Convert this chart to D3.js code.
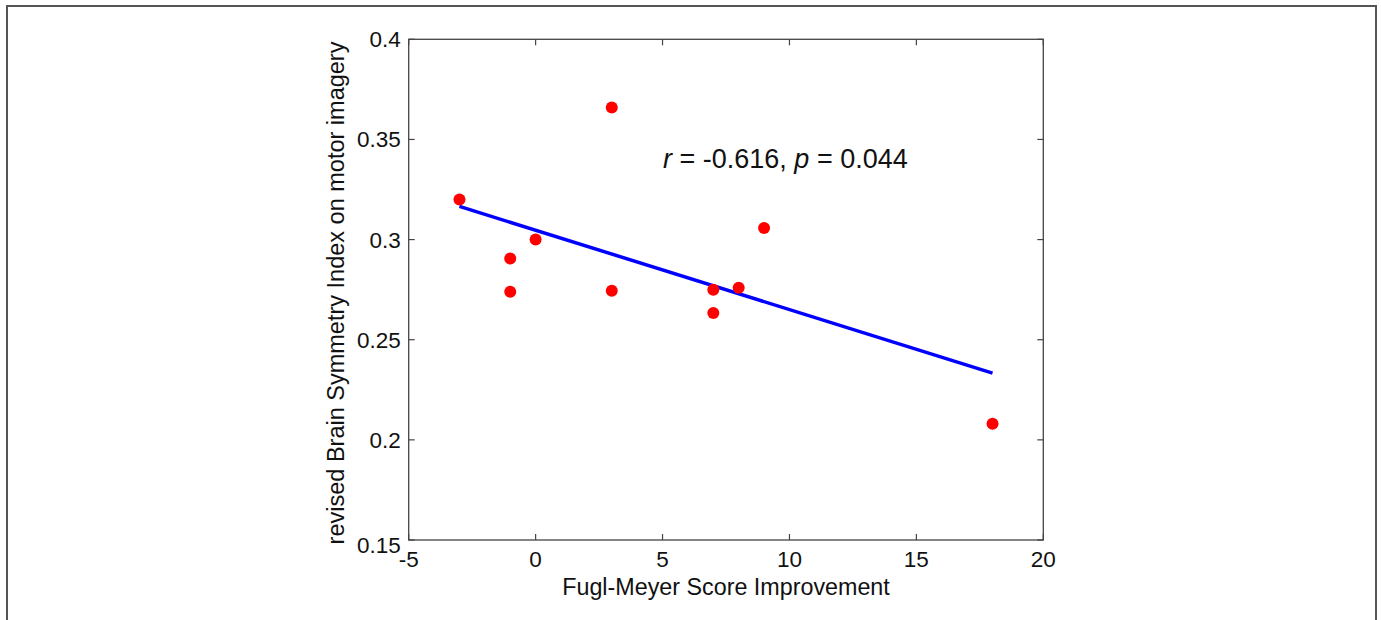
<!DOCTYPE html>
<html>
<head>
<meta charset="utf-8">
<script src="https://cdn.jsdelivr.net/npm/d3@7"></script>
<style>
  body { margin: 0; background: #fff; }
  svg { display: block; font-family: "Liberation Sans", Arial, sans-serif; }
</style>
</head>
<body>
<div id="chart"></div>
<script>
// Fugl-Meyer improvement vs revised BSI
const fmImprovement = [-3, 3, 0, -1, -1, 3, 7, 8, 7, 9, 18];
const rbsiValues = [0.320, 0.366, 0.300, 0.2905, 0.274, 0.2744, 0.275, 0.276, 0.2634, 0.3058, 0.2081];
const xTicks = [-5, 0, 5, 10, 15, 20];
const yTicks = [0.15, 0.2, 0.25, 0.3, 0.35, 0.4];
const xTickLabels = ["-5", "0", "5", "10", "15", "20"];
const yTickLabels = ["0.15", "0.2", "0.25", "0.3", "0.35", "0.4"];

const width = 1381, height = 620;
const plot = { left: 408.7, right: 1043.3, top: 39.3, bottom: 540 };

const svg = d3.select("#chart").append("svg")
    .attr("width", width)
    .attr("height", height);

// outer frame of the figure
svg.append("rect")
    .attr("x", 7).attr("y", 6)
    .attr("width", 1376 - 7).attr("height", 640)
    .attr("fill", "none")
    .attr("stroke", "#555")
    .attr("stroke-width", 2);

const x = d3.scaleLinear().domain([-5, 20]).range([plot.left, plot.right]);
const y = d3.scaleLinear().domain([0.15, 0.4]).range([plot.bottom, plot.top]);

const axisColor = "#444";
const tickLen = 6;

// box
svg.append("rect")
    .attr("x", plot.left).attr("y", plot.top)
    .attr("width", plot.right - plot.left).attr("height", plot.bottom - plot.top)
    .attr("fill", "none")
    .attr("stroke", axisColor)
    .attr("stroke-width", 1.3);

// inward ticks on all four sides
const g = svg.append("g").attr("stroke", axisColor).attr("stroke-width", 1.2);
xTicks.forEach(t => {
    g.append("line").attr("x1", x(t)).attr("x2", x(t)).attr("y1", plot.bottom).attr("y2", plot.bottom - tickLen);
    g.append("line").attr("x1", x(t)).attr("x2", x(t)).attr("y1", plot.top).attr("y2", plot.top + tickLen);
});
yTicks.forEach(t => {
    g.append("line").attr("x1", plot.left).attr("x2", plot.left + tickLen).attr("y1", y(t)).attr("y2", y(t));
    g.append("line").attr("x1", plot.right).attr("x2", plot.right - tickLen).attr("y1", y(t)).attr("y2", y(t));
});

// tick labels
svg.selectAll("text.xtick")
    .data(xTicks)
    .enter().append("text")
    .attr("class", "xtick")
    .attr("x", d => x(d))
    .attr("y", plot.bottom + 27)
    .attr("text-anchor", "middle")
    .attr("font-size", "22.5px")
    .attr("fill", "#111")
    .text((d, i) => xTickLabels[i]);

svg.selectAll("text.ytick")
    .data(yTicks)
    .enter().append("text")
    .attr("class", "ytick")
    .attr("x", plot.left - 8)
    .attr("y", (d, i) => y(d) + (i === 0 ? 12.5 : 8))  // bottom label sits a bit lower
    .attr("text-anchor", "end")
    .attr("font-size", "22.5px")
    .attr("fill", "#111")
    .text((d, i) => yTickLabels[i]);

// axis titles
svg.append("text")
    .attr("x", (plot.left + plot.right) / 2)
    .attr("y", 595)
    .attr("text-anchor", "middle")
    .attr("font-size", "23.3px")
    .attr("fill", "#111")
    .text("Fugl-Meyer Score Improvement");

svg.append("text")
    .attr("transform", `translate(344, ${(38 + 548) / 2}) rotate(-90)`)
    .attr("text-anchor", "middle")
    .attr("font-size", "23.5px")
    .attr("fill", "#111")
    .text("revised Brain Symmetry Index on motor imagery");

// least squares fit line over the data range
const mx = d3.mean(fmImprovement), my = d3.mean(rbsiValues);
const sxy = d3.sum(fmImprovement, (d, i) => (d - mx) * (rbsiValues[i] - my));
const sxx = d3.sum(fmImprovement, d => (d - mx) * (d - mx));
const slope = sxy / sxx, intercept = my - slope * mx;
const [xMin, xMax] = d3.extent(fmImprovement);

svg.append("line")
    .attr("x1", x(xMin)).attr("y1", y(intercept + slope * xMin))
    .attr("x2", x(xMax)).attr("y2", y(intercept + slope * xMax))
    .attr("stroke", "#0000ff")
    .attr("stroke-width", 3.5);

// points
svg.selectAll("circle.pt")
    .data(fmImprovement)
    .enter().append("circle")
    .attr("class", "pt")
    .attr("cx", d => x(d))
    .attr("cy", (d, i) => y(rbsiValues[i]))
    .attr("r", 6)
    .attr("fill", "#ff0000");

// annotation
const ann = svg.append("text")
    .attr("x", 663)
    .attr("y", 168)
    .attr("font-size", "27px")
    .attr("fill", "#111");
ann.append("tspan").attr("font-style", "italic").text("r");
ann.append("tspan").text(" = -0.616, ");
ann.append("tspan").attr("font-style", "italic").text("p");
ann.append("tspan").text(" = 0.044");
</script>
</body>
</html>
